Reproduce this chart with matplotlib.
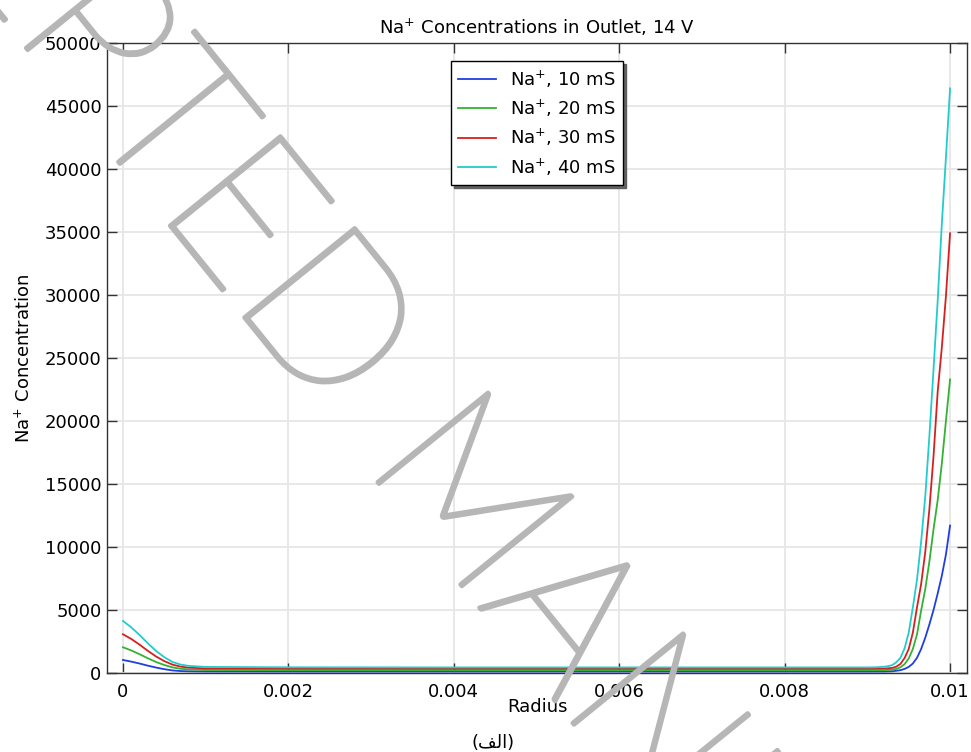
import matplotlib
matplotlib.use("Agg")
import matplotlib.pyplot as plt
import matplotlib.patheffects as pe

# radius samples shared by the flat part of every curve
r_head = [0, 0.0001, 0.0002, 0.0003, 0.0004, 0.0005, 0.0006, 0.0007, 0.0008,
          0.001, 0.002, 0.004, 0.006, 0.008, 0.009]
head_10 = [1030, 900, 750, 580, 430, 300, 200, 150, 130, 115, 110, 110, 110, 110, 110]
head_20 = [2040, 1790, 1490, 1170, 870, 630, 440, 330, 280, 240, 225, 220, 220, 220, 220]
head_30 = [3070, 2700, 2250, 1760, 1310, 940, 660, 500, 420, 360, 340, 330, 330, 330, 330]
head_40 = [4130, 3620, 3020, 2360, 1750, 1250, 870, 660, 560, 480, 450, 440, 440, 440, 440]

# steep rise near the outer wall
r_tail_10 = [0.0092, 0.0093, 0.0094, 0.00945, 0.0095, 0.00955, 0.0096, 0.00965,
             0.0097, 0.00975, 0.0098, 0.00985, 0.0099, 0.00995, 0.01]
tail_10 = [112, 130, 220, 320, 480, 750, 1200, 1900, 2800, 3850, 5000, 6300, 7700,
           9400, 11700]
r_tail_20 = [0.0092, 0.0093, 0.00935, 0.0094, 0.00945, 0.0095, 0.00955, 0.0096,
             0.00965, 0.0097, 0.00975, 0.0098, 0.00985, 0.0099, 0.00995, 0.01]
tail_20 = [225, 260, 320, 450, 700, 1150, 1900, 3050, 4950, 6650, 8850, 11400,
           13700, 16600, 20000, 23300]
r_tail_30 = [0.0092, 0.0093, 0.00935, 0.0094, 0.00945, 0.0095, 0.00955, 0.0096,
             0.00965, 0.0097, 0.00975, 0.0098, 0.00985, 0.0099, 0.00995, 0.01]
tail_30 = [345, 400, 500, 720, 1180, 1900, 3200, 5200, 7050, 9600, 13000, 17200,
           22300, 25800, 29900, 34900]
r_tail_40 = [0.0091, 0.0092, 0.00925, 0.0093, 0.00935, 0.0094, 0.00945, 0.0095,
             0.00955, 0.0096, 0.00965, 0.0097, 0.00975, 0.0098, 0.00985, 0.0099,
             0.00995, 0.01]
tail_40 = [450, 490, 540, 620, 850, 1200, 1950, 3200, 5200, 7400, 10400, 14000,
           18800, 24100, 29500, 35600, 40900, 46400]

labels = ["Na$^{+}$, 10 mS", "Na$^{+}$, 20 mS", "Na$^{+}$, 30 mS", "Na$^{+}$, 40 mS"]
colors = ["#1f3fe0", "#33b233", "#d62020", "#22cccc"]

xticks = [0, 0.002, 0.004, 0.006, 0.008, 0.01]
xticklabels = ["0", "0.002", "0.004", "0.006", "0.008", "0.01"]
yticks = list(range(0, 50001, 5000))

series = [
    (r_head + r_tail_10, head_10 + tail_10),
    (r_head + r_tail_20, head_20 + tail_20),
    (r_head + r_tail_30, head_30 + tail_30),
    (r_head + r_tail_40, head_40 + tail_40),
]

plt.rcParams["font.family"] = ["DejaVu Sans"]
plt.rcParams["font.size"] = 13

fig = plt.figure(figsize=(9.71, 7.52), dpi=100)
ax = fig.add_axes([0.1102, 0.1051, 0.8857, 0.8377])

for (r, c), lab, col in zip(series, labels, colors):
    ax.plot(r, c, color=col, lw=1.3, label=lab)

ax.set_xlim(-0.000193, 0.010205)
ax.set_ylim(0, 50000)
ax.set_xticks(xticks)
ax.set_xticklabels(xticklabels)
ax.set_yticks(yticks)
ax.set_yticklabels([str(v) for v in yticks])
ax.grid(True, color="#e6e6e6", lw=1.3)
ax.set_axisbelow(True)
ax.tick_params(direction="in", top=True, right=True, length=7, width=1,
               color="#333333", labelsize=13)
ax.tick_params(axis="x", pad=7)
ax.tick_params(axis="y", pad=4)
for sp in ax.spines.values():
    sp.set_color("#333333")
    sp.set_linewidth(1.0)

ax.set_title("Na$^{+}$ Concentrations in Outlet, 14 V", fontsize=13, pad=7)
ax.set_xlabel("Radius", fontsize=13, labelpad=-2)
ax.set_ylabel("Na$^{+}$ Concentration", fontsize=13, labelpad=8)

leg = ax.legend(loc="upper center", bbox_to_anchor=(0.5, 1.0), borderaxespad=1.0,
                fancybox=False, shadow={"color": "#555555", "alpha": 0.9},
                edgecolor="black", framealpha=1, handlelength=2.1,
                labelspacing=0.45, fontsize=13)
leg.get_frame().set_linewidth(1.0)

# figure caption (Persian "alef"), glyphs in visual order
fig.text(0.508, 0.012, "(\ufed2\ufedf\ufe8d)", ha="center", va="center",
         fontsize=13, family=["DejaVu Sans"])

# diagonal watermark
fig.text(-0.3281, 1.5023, "ACCEPTED MANUSCRIPT", fontsize=146, family=["Lato"],
         fontweight=100, color="#b6b6b6", rotation=-51, rotation_mode="anchor",
         ha="left", va="baseline", zorder=20,
         path_effects=[pe.Stroke(linewidth=3.2, foreground="#b6b6b6"), pe.Normal()])

fig.savefig("out.png", dpi=100)
